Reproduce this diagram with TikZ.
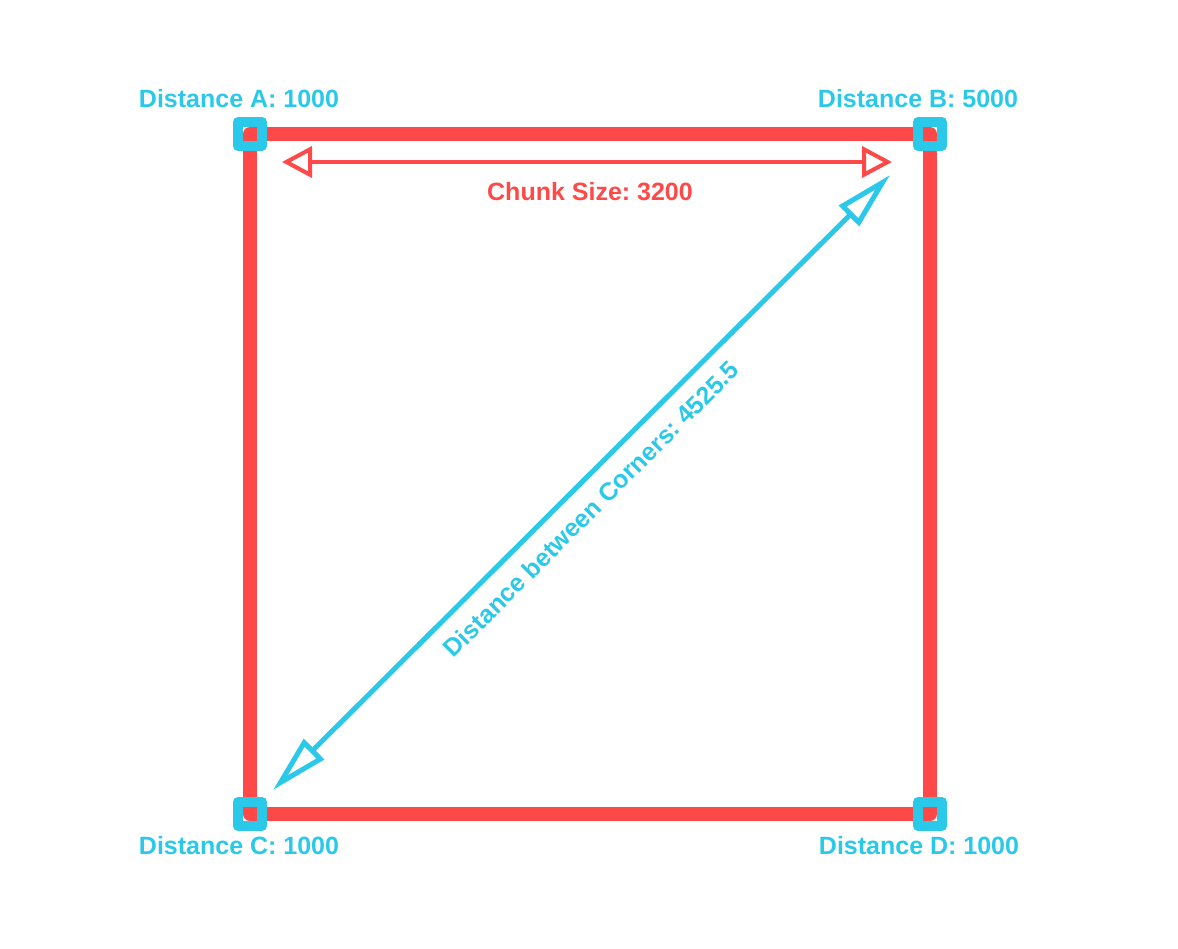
\documentclass[tikz,border=0pt]{standalone}
\usepackage{fontspec}
\setmainfont{Liberation Sans}
\frenchspacing
\usetikzlibrary{arrows.meta}
\definecolor{sqred}{RGB}{255,72,72}
\definecolor{cyanb}{RGB}{42,201,234}
\tikzset{
  edge/.style={draw=sqred, line width=14pt, line join=round},
  cornerbox/.style={draw=cyanb, line width=10pt, line join=round, minimum size=24pt, inner sep=0pt},
  lbl/.style={text=cyanb, font=\fontsize{25}{30}\selectfont\bfseries, inner sep=0pt},
  rlbl/.style={text=sqred, font=\fontsize{25}{30}\selectfont\bfseries, inner sep=0pt},
  chunkarrow/.style={draw=sqred, line width=4pt, {Triangle[open, length=30pt, width=31pt]}-{Triangle[open, length=30pt, width=31pt]}},
  diagarrow/.style={draw=cyanb, line width=5pt, {Triangle[open, length=58pt, width=28pt]}-{Triangle[open, length=58pt, width=28pt]}}
}
\begin{document}
\begin{tikzpicture}[x=1pt,y=-1pt]
\useasboundingbox (0,0) rectangle (1178,949);
\coordinate (a) at (250,134);
\coordinate (b) at (930,134);
\coordinate (c) at (250,814);
\coordinate (d) at (930,814);
\draw[edge] (a) -- (b) -- (d) -- (c) -- cycle;
\node[cornerbox] (A) at (a) {};
\node[cornerbox] (B) at (b) {};
\node[cornerbox] (C) at (c) {};
\node[cornerbox] (D) at (d) {};
\node[lbl] (la) at (239,99) {Distance A: 1000};
\node[lbl] (lb) at (918,99) {Distance B: 5000};
\node[lbl] (lc) at (239,846) {Distance C: 1000};
\node[lbl] (ld) at (919,846) {Distance D: 1000};
\coordinate (cl) at (282,162);
\coordinate (cr) at (892,162);
\draw[chunkarrow] (cl) -- (cr);
\node[rlbl] (cs) at (590,192) {Chunk Size: 3200};
\coordinate (dl) at (273,790);
\coordinate (dr) at (890,175);
\draw[diagarrow] (dl) -- (dr);
\node[lbl, rotate=45] (dg) at (591,509) {Distance between Corners: 4525.5};
\end{tikzpicture}
\end{document}
